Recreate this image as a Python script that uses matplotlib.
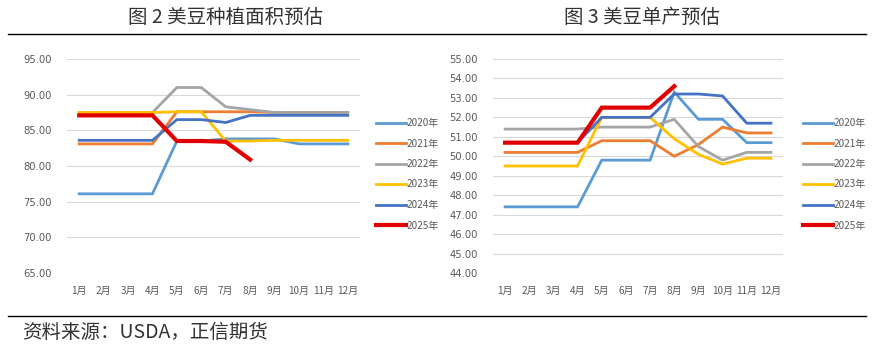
import matplotlib.pyplot as plt

plt.rcParams['font.family'] = ['Noto Sans CJK SC', 'DejaVu Sans']

months = ['1月', '2月', '3月', '4月', '5月', '6月', '7月', '8月', '9月', '10月', '11月', '12月']
years = ['2020年', '2021年', '2022年', '2023年', '2024年', '2025年']
colors = ['#5B9BD5', '#ED7D31', '#A5A5A5', '#FFC000', '#4472C4', '#E00000']

# 美豆种植面积预估
area_2020 = [76.1, 76.1, 76.1, 76.1, 83.5, 83.5, 83.8, 83.8, 83.8, 83.1, 83.1, 83.1]
area_2021 = [83.1, 83.1, 83.1, 83.1, 87.6, 87.6, 87.6, 87.6, 87.5, 87.5, 87.5, 87.5]
area_2022 = [87.5, 87.5, 87.5, 87.5, 91.0, 91.0, 88.3, 87.9, 87.5, 87.5, 87.5, 87.5]
area_2023 = [87.5, 87.5, 87.5, 87.5, 87.6, 87.6, 83.5, 83.5, 83.6, 83.6, 83.6, 83.6]
area_2024 = [83.6, 83.6, 83.6, 83.6, 86.5, 86.5, 86.1, 87.1, 87.1, 87.1, 87.1, 87.1]
area_2025 = [87.1, 87.1, 87.1, 87.1, 83.5, 83.5, 83.4, 80.9]

# 美豆单产预估
yield_2020 = [47.4, 47.4, 47.4, 47.4, 49.8, 49.8, 49.8, 53.3, 51.9, 51.9, 50.7, 50.7]
yield_2021 = [50.2, 50.2, 50.2, 50.2, 50.8, 50.8, 50.8, 50.0, 50.6, 51.5, 51.2, 51.2]
yield_2022 = [51.4, 51.4, 51.4, 51.4, 51.5, 51.5, 51.5, 51.9, 50.5, 49.8, 50.2, 50.2]
yield_2023 = [49.5, 49.5, 49.5, 49.5, 52.0, 52.0, 52.0, 50.9, 50.1, 49.6, 49.9, 49.9]
yield_2024 = [50.7, 50.7, 50.7, 50.7, 52.0, 52.0, 52.0, 53.2, 53.2, 53.1, 51.7, 51.7]
yield_2025 = [50.7, 50.7, 50.7, 50.7, 52.5, 52.5, 52.5, 53.6]

W, H = 878, 350
fig = plt.figure(figsize=(W / 100, H / 100), dpi=100)


def px_axes(x0, y0, x1, y1):
    # pixel box (top-left origin) -> figure axes
    return fig.add_axes([x0 / W, 1 - y1 / H, (x1 - x0) / W, (y1 - y0) / H])


def draw_panel(ax, series, ymin, ymax, step):
    for i, (vals, c) in enumerate(zip(series, colors)):
        lw = 3.0 if i == 5 else 2.0
        ax.plot(range(1, len(vals) + 1), vals, color=c, lw=lw,
                solid_joinstyle='miter', label=years[i], zorder=3 + (i == 5))
    ax.set_xlim(0.5, 12.5)
    ax.set_ylim(ymin, ymax)
    yt = []
    v = ymin
    while v <= ymax + 1e-6:
        yt.append(v)
        v += step
    ax.set_yticks(yt)
    ax.set_yticklabels([f'{t:.2f}' for t in yt], fontsize=7.2, color='#595959',
                       family='DejaVu Sans')
    ax.set_xticks(range(1, 13))
    ax.set_xticklabels(months, fontsize=7.2, color='#595959')
    ax.tick_params(length=0, pad=9)
    ax.tick_params(axis='y', pad=11)
    ax.grid(axis='y', color='#D9D9D9', lw=0.8)
    ax.set_axisbelow(True)
    for s in ax.spines.values():
        s.set_visible(False)


ax1 = px_axes(67, 59, 360, 273)
draw_panel(ax1, [area_2020, area_2021, area_2022, area_2023, area_2024, area_2025], 65, 95, 5)
ax2 = px_axes(493, 59, 783, 273)
draw_panel(ax2, [yield_2020, yield_2021, yield_2022, yield_2023, yield_2024, yield_2025], 44, 55, 1)

for ax, lx in [(ax1, 372), (ax2, 799)]:
    ax.legend(loc='upper left', bbox_to_anchor=(lx / W, 1 - 114 / H),
              bbox_transform=fig.transFigure, frameon=False, fontsize=7.2,
              handlelength=3.0, handletextpad=0.1, labelspacing=1.05,
              labelcolor='#595959', borderaxespad=0)

# titles, rules and footer
fig.text(226, H - 17, '图 2 美豆种植面积预估', transform=None, ha='center', va='center',
         fontsize=14, color='#333333', fontweight='light')
fig.text(642, H - 17, '图 3 美豆单产预估', transform=None, ha='center', va='center',
         fontsize=14, color='#333333', fontweight='light')
fig.add_artist(plt.Line2D([8 / W, 866 / W], [1 - 34 / H, 1 - 34 / H], color='black', lw=1.0))
fig.add_artist(plt.Line2D([8 / W, 866 / W], [1 - 316 / H, 1 - 316 / H], color='black', lw=1.0))
fig.text(22, H - 332, '资料来源：USDA，正信期货', transform=None, ha='left', va='center',
         fontsize=14, color='#333333', fontweight='light')

fig.savefig('out.png', dpi=100)
